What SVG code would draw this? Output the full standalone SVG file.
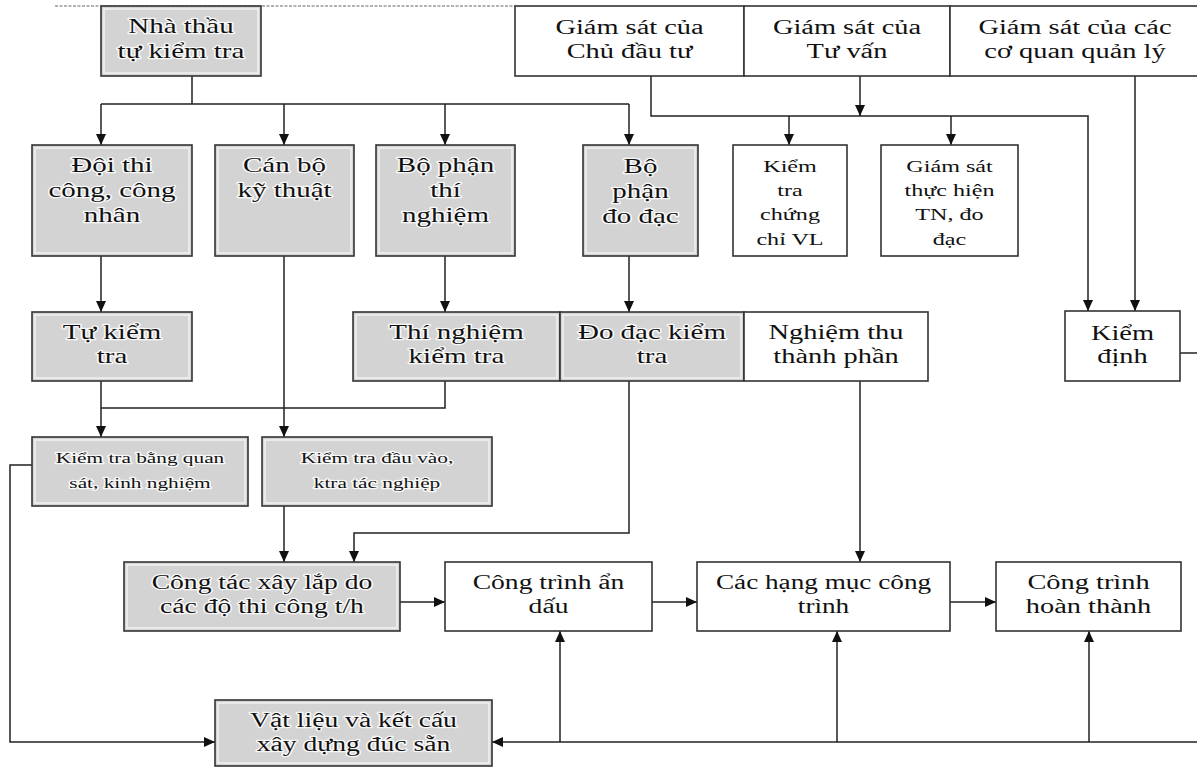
<svg xmlns="http://www.w3.org/2000/svg" width="1197" height="768" viewBox="0 0 1197 768">
<defs>
<marker id="ah" markerUnits="userSpaceOnUse" markerWidth="11" markerHeight="10" refX="11" refY="5" orient="auto">
<path d="M0,0 L11,5 L0,10 z" fill="#111"/>
</marker>
<style>
.g{fill:#d3d3d3;stroke:#333;stroke-width:1.6}
.gi{fill:none;stroke:#f2f2f2;stroke-width:1.5}
.w{fill:#fff;stroke:#333;stroke-width:1.6}
.t{font-family:"Liberation Serif","Times New Roman",serif;font-size:20px;fill:#111;text-anchor:middle}
.s17{font-size:17px}
.s15{font-size:15px}
.h{stroke:#fff;stroke-width:2.5;stroke-opacity:0.85;paint-order:stroke;stroke-linejoin:round}
.c{fill:none;stroke:#222;stroke-width:1.5}
.a{marker-end:url(#ah)}
</style>
</defs>
<rect width="1197" height="768" fill="#fff"/>
<line x1="55" y1="6" x2="515" y2="6" stroke="#666" stroke-width="1" stroke-dasharray="3 1.5"/>

<g id="connectors">
<path class="c" d="M192,76 V104 M101,104 H629"/>
<path class="c a" d="M101,104 V145"/>
<path class="c a" d="M284,104 V145"/>
<path class="c a" d="M445,104 V145"/>
<path class="c a" d="M629,104 V145"/>
<path class="c a" d="M101,256 V312"/>
<path class="c a" d="M284,256 V437"/>
<path class="c a" d="M445,256 V312"/>
<path class="c a" d="M629,256 V312"/>
<path class="c a" d="M101,381 V437"/>
<path class="c" d="M445,381 V408 H101"/>
<path class="c a" d="M32,465 H10 V742 H215"/>
<path class="c a" d="M284,506 V562"/>
<path class="c a" d="M629,381 V533 H354 V562"/>
<path class="c a" d="M860,381 V562"/>
<path class="c a" d="M400,602 H445"/>
<path class="c a" d="M652,602 H697"/>
<path class="c a" d="M950,602 H996"/>
<path class="c a" d="M1197,742 H492"/>
<path class="c a" d="M560,742 V631"/>
<path class="c a" d="M837,742 V631"/>
<path class="c a" d="M1089,742 V631"/>
<path class="c a" d="M651,76 V116 H1088 V311"/>
<path class="c a" d="M860,76 V116"/>
<path class="c a" d="M789,116 V145"/>
<path class="c a" d="M951,116 V145"/>
<path class="c a" d="M1135,76 V311"/>
<path class="c" d="M1180,353 H1197"/>
</g>

<g id="n-nhathau">
<rect class="g" x="101" y="6" width="160" height="70"/>
<rect class="gi" x="104" y="9" width="154" height="64"/>
<text class="t h" transform="translate(181,0) scale(1.45,1)"><tspan x="0" y="33">Nhà thầu</tspan><tspan x="0" y="58">tự kiểm tra</tspan></text>
</g>

<g id="n-gs-cdt">
<rect class="w" x="515" y="6" width="229" height="70"/>
<text class="t" transform="translate(629.5,0) scale(1.42,1)"><tspan x="0" y="34">Giám sát của</tspan><tspan x="0" y="58">Chủ đầu tư</tspan></text>
</g>
<g id="n-gs-tv">
<rect class="w" x="744" y="6" width="206" height="70"/>
<text class="t" transform="translate(847,0) scale(1.42,1)"><tspan x="0" y="34">Giám sát của</tspan><tspan x="0" y="58">Tư vấn</tspan></text>
</g>
<g id="n-gs-cq">
<rect class="w" x="950" y="6" width="260" height="70"/>
<text class="t" transform="translate(1075,0) scale(1.42,1)"><tspan x="0" y="34">Giám sát của các</tspan><tspan x="0" y="58">cơ quan quản lý</tspan></text>
</g>

<g id="n-doithicong">
<rect class="g" x="32" y="145" width="160" height="111"/>
<rect class="gi" x="35" y="148" width="154" height="105"/>
<text class="t h" transform="translate(112,0) scale(1.45,1)"><tspan x="0" y="172">Đội thi</tspan><tspan x="0" y="197">công, công</tspan><tspan x="0" y="222">nhân</tspan></text>
</g>
<g id="n-canbo">
<rect class="g" x="215" y="145" width="139" height="111"/>
<rect class="gi" x="218" y="148" width="133" height="105"/>
<text class="t h" transform="translate(284.5,0) scale(1.45,1)"><tspan x="0" y="172">Cán bộ</tspan><tspan x="0" y="197">kỹ thuật</tspan></text>
</g>
<g id="n-bpthinghiem">
<rect class="g" x="376" y="145" width="139" height="111"/>
<rect class="gi" x="379" y="148" width="133" height="105"/>
<text class="t h" transform="translate(445.5,0) scale(1.45,1)"><tspan x="0" y="172">Bộ phận</tspan><tspan x="0" y="197">thí</tspan><tspan x="0" y="222">nghiệm</tspan></text>
</g>
<g id="n-bpdodac">
<rect class="g" x="583" y="145" width="115" height="111"/>
<rect class="gi" x="586" y="148" width="109" height="105"/>
<text class="t h" transform="translate(640.5,0) scale(1.45,1)"><tspan x="0" y="173">Bộ</tspan><tspan x="0" y="198">phận</tspan><tspan x="0" y="223">đo đạc</tspan></text>
</g>
<g id="n-ktcc">
<rect class="w" x="733" y="145" width="114" height="111"/>
<text class="t s17" transform="translate(790,0) scale(1.42,1)"><tspan x="0" y="172">Kiểm</tspan><tspan x="0" y="196">tra</tspan><tspan x="0" y="220">chứng</tspan><tspan x="0" y="245">chỉ VL</tspan></text>
</g>
<g id="n-gsth">
<rect class="w" x="881" y="145" width="137" height="111"/>
<text class="t s17" transform="translate(949.5,0) scale(1.42,1)"><tspan x="0" y="172">Giám sát</tspan><tspan x="0" y="196">thực hiện</tspan><tspan x="0" y="220">TN, đo</tspan><tspan x="0" y="245">đạc</tspan></text>
</g>

<g id="n-tukiemtra">
<rect class="g" x="32" y="312" width="160" height="69"/>
<rect class="gi" x="35" y="315" width="154" height="63"/>
<text class="t h" transform="translate(112,0) scale(1.45,1)"><tspan x="0" y="339">Tự kiểm</tspan><tspan x="0" y="363">tra</tspan></text>
</g>
<g id="n-tnkt">
<rect class="g" x="353" y="312" width="207" height="69"/>
<rect class="gi" x="356" y="315" width="201" height="63"/>
<text class="t h" transform="translate(456.5,0) scale(1.45,1)"><tspan x="0" y="339">Thí nghiệm</tspan><tspan x="0" y="363">kiểm tra</tspan></text>
</g>
<g id="n-ddkt">
<rect class="g" x="560" y="312" width="184" height="69"/>
<rect class="gi" x="563" y="315" width="178" height="63"/>
<text class="t h" transform="translate(652,0) scale(1.45,1)"><tspan x="0" y="339">Đo đạc kiểm</tspan><tspan x="0" y="363">tra</tspan></text>
</g>
<g id="n-nttp">
<rect class="w" x="744" y="312" width="184" height="69"/>
<text class="t" transform="translate(836,0) scale(1.42,1)"><tspan x="0" y="339">Nghiệm thu</tspan><tspan x="0" y="363">thành phần</tspan></text>
</g>
<g id="n-kiemdinh">
<rect class="w" x="1065" y="311" width="115" height="70"/>
<text class="t" transform="translate(1122.5,0) scale(1.42,1)"><tspan x="0" y="340">Kiểm</tspan><tspan x="0" y="363">định</tspan></text>
</g>

<g id="n-ktqs">
<rect class="g" x="32" y="437" width="216" height="69"/>
<rect class="gi" x="35" y="440" width="210" height="63"/>
<text class="t s15 h" transform="translate(140,0) scale(1.42,1)"><tspan x="0" y="463">Kiểm tra bằng quan</tspan><tspan x="0" y="488">sát, kinh nghiệm</tspan></text>
</g>
<g id="n-ktdv">
<rect class="g" x="262" y="437" width="230" height="69"/>
<rect class="gi" x="265" y="440" width="224" height="63"/>
<text class="t s15 h" transform="translate(377,0) scale(1.42,1)"><tspan x="0" y="463">Kiểm tra đầu vào,</tspan><tspan x="0" y="488">ktra tác nghiệp</tspan></text>
</g>

<g id="n-ctxl">
<rect class="g" x="124" y="562" width="276" height="69"/>
<rect class="gi" x="127" y="565" width="270" height="63"/>
<text class="t h" transform="translate(262,0) scale(1.38,1)"><tspan x="0" y="589">Công tác xây lắp do</tspan><tspan x="0" y="613">các độ thi công t/h</tspan></text>
</g>
<g id="n-ctad">
<rect class="w" x="445" y="562" width="207" height="69"/>
<text class="t" transform="translate(548.5,0) scale(1.38,1)"><tspan x="0" y="589">Công trình ẩn</tspan><tspan x="0" y="613">dấu</tspan></text>
</g>
<g id="n-chm">
<rect class="w" x="697" y="562" width="253" height="69"/>
<text class="t" transform="translate(823.5,0) scale(1.36,1)"><tspan x="0" y="589">Các hạng mục công</tspan><tspan x="0" y="613">trình</tspan></text>
</g>
<g id="n-ctht">
<rect class="w" x="996" y="562" width="185" height="69"/>
<text class="t" transform="translate(1088.5,0) scale(1.42,1)"><tspan x="0" y="589">Công trình</tspan><tspan x="0" y="613">hoàn thành</tspan></text>
</g>

<g id="n-vatlieu">
<rect class="g" x="215" y="700" width="277" height="66"/>
<rect class="gi" x="218" y="703" width="271" height="60"/>
<text class="t h" transform="translate(353.5,0) scale(1.38,1)"><tspan x="0" y="727">Vật liệu và kết cấu</tspan><tspan x="0" y="751">xây dựng đúc sẵn</tspan></text>
</g>
</svg>
